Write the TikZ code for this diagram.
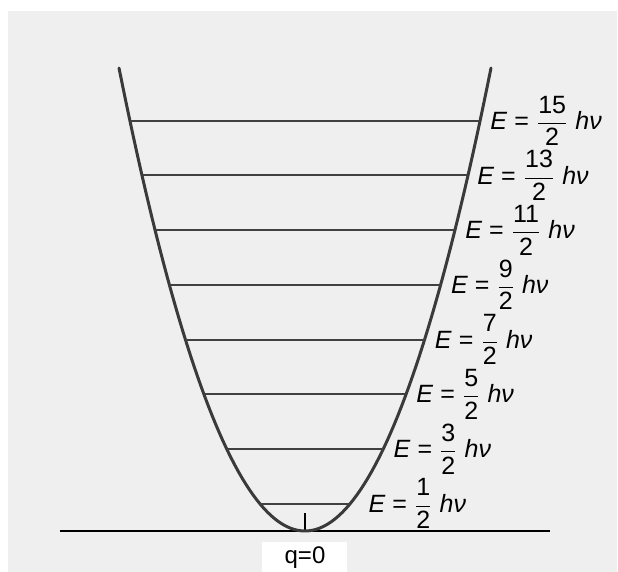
\documentclass[tikz,border=0pt]{standalone}
\usepackage{fontspec}
\setmainfont{Liberation Sans}
\usepackage{amsmath}
\usetikzlibrary{positioning}
\definecolor{paper}{HTML}{EFEFEF}
\definecolor{wellline}{HTML}{3A3A3A}
\definecolor{levelline}{HTML}{404040}
\tikzset{
  well/.style={draw=wellline, line width=1.5pt, line cap=round},
  level/.style={draw=levelline, line width=1pt},
  axis/.style={draw=black, line width=1.4pt},
  elabel/.style={anchor=west, inner sep=0pt, font=\fontsize{12.5}{14}\selectfont},
}

\begin{document}
\begin{tikzpicture}[x=0.5pt, y=-0.5pt,
  qlabel/.style={fill=white, minimum width=42.5pt, minimum height=15pt, inner sep=0pt,
                 font=\fontsize{12}{14}\selectfont}]
  \useasboundingbox (0,0) rectangle (618,572);
  \fill[paper] (8,11) rectangle (617,572);
  \def\cx{305}\def\by{531}\def\wtop{186}\def\htop{463}
  % axis
  \coordinate (bl) at (60,\by);
  \coordinate (br) at (550,\by);
  \coordinate (v) at (\cx,\by);
  \coordinate (vt) at (\cx,513);
  \draw[axis] (bl) -- (br);
  \draw[line width=1pt] (v) -- (vt);
  % well
  \draw[well] plot[domain=-\wtop:\wtop, samples=101]
    ({\cx+\x}, {\by-\htop*(\x/\wtop)*(\x/\wtop)});
  % levels
  \foreach \n/\dx in {0/18,1/10,2/10,3/10,4/10,5/10,6/9,7/10}{
    \pgfmathsetmacro\hh{27.3+54.7*\n}
    \pgfmathsetmacro\ww{\wtop*sqrt(\hh/\htop)}
    \pgfmathsetmacro\gap{\dx*0.5}
    \pgfmathtruncatemacro\num{2*\n+1}
    \coordinate (L\n) at (\cx-\ww,\by-\hh);
    \coordinate (R\n) at (\cx+\ww,\by-\hh);
    \draw[level] (L\n) -- (R\n);
    \node[elabel, right=\gap pt of R\n] (e\n)
      {\textit{E} = $\dfrac{\mbox{\num}}{\mbox{2}}$ \textit{hν}};
  }
  \node[qlabel, below=5.5pt of v] (q) {q=0};
\end{tikzpicture}
\end{document}
